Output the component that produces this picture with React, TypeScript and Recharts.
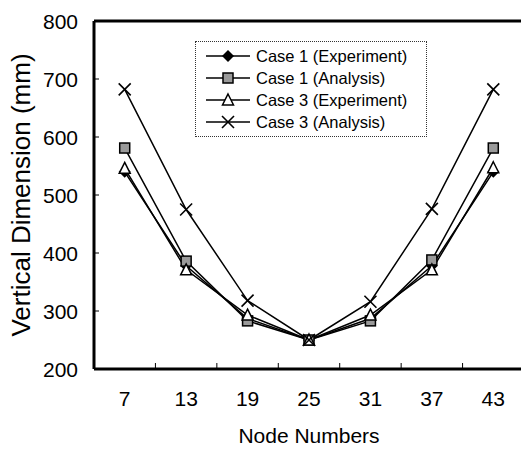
import React from 'react';
import { LineChart, Line, XAxis, YAxis, ReferenceLine, Legend } from 'recharts';

const nodes = [7, 13, 19, 25, 31, 37, 43];
const case1Experiment = [540, 378, 287, 250, 287, 378, 540];
const case1Analysis = [581, 386, 283, 250, 283, 388, 581];
const case3Experiment = [546, 371, 293, 250, 293, 371, 547];
const case3Analysis = [682, 475, 318, 250, 316, 476, 682];

const xLabels = [7, 13, 19, 25, 31, 37, 43];
const xMinorTicks = [10, 16, 22, 28, 34, 40];
const yTicks = [200, 300, 400, 500, 600, 700, 800];

const FONT = '"Liberation Sans", Arial, sans-serif';

const series = [
  { key: 'c1e', name: 'Case 1 (Experiment)', kind: 'diamond' },
  { key: 'c1a', name: 'Case 1 (Analysis)', kind: 'square' },
  { key: 'c3e', name: 'Case 3 (Experiment)', kind: 'triangle' },
  { key: 'c3a', name: 'Case 3 (Analysis)', kind: 'cross' },
];

const data = nodes.map((n, i) => ({
  node: n,
  c1e: case1Experiment[i],
  c1a: case1Analysis[i],
  c3e: case3Experiment[i],
  c3a: case3Analysis[i],
}));

const Marker = ({ kind, cx, cy }: { kind: string; cx: number; cy: number }) => {
  if (kind === 'diamond') {
    return <polygon points={`${cx},${cy - 6} ${cx + 6},${cy} ${cx},${cy + 6} ${cx - 6},${cy}`} fill="#000" />;
  }
  if (kind === 'square') {
    return <rect x={cx - 5} y={cy - 5} width={10} height={10} fill="#9a9a9a" stroke="#000" strokeWidth={1.5} />;
  }
  if (kind === 'triangle') {
    return <polygon points={`${cx},${cy - 6} ${cx + 5.5},${cy + 5} ${cx - 5.5},${cy + 5}`} fill="#fff" stroke="#000" strokeWidth={1.5} />;
  }
  return (
    <g stroke="#000" strokeWidth={1.6}>
      <line x1={cx - 6} y1={cy - 6} x2={cx + 6} y2={cy + 6} />
      <line x1={cx - 6} y1={cy + 6} x2={cx + 6} y2={cy - 6} />
    </g>
  );
};

const XTick = (props: any) => {
  const { x, y, payload } = props;
  const v = payload.value;
  if (xMinorTicks.includes(v)) {
    return <line x1={x} x2={x} y1={y - 22} y2={y - 28} stroke="#000" strokeWidth={1} />;
  }
  return (
    <text x={x} y={y} dy="0.71em" textAnchor="middle" fontSize={21} fontFamily={FONT} fill="#000">
      {v}
    </text>
  );
};

const YTick = (props: any) => {
  const { x, y, payload } = props;
  const v = payload.value;
  return (
    <g>
      {v !== 200 && v !== 800 && (
        <line x1={x + 16} x2={x + 21} y1={y} y2={y} stroke="#000" strokeWidth={1} />
      )}
      <text x={x} y={y} dy="0.36em" textAnchor="end" fontSize={21} fontFamily={FONT} fill="#000">
        {v}
      </text>
    </g>
  );
};

const YLabel = (props: any) => {
  const { viewBox } = props;
  const cx = viewBox.x + 21;
  const cy = viewBox.y + viewBox.height / 2;
  return (
    <text
      x={cx}
      y={cy}
      transform={`rotate(-90, ${cx}, ${cy})`}
      textAnchor="middle"
      dominantBaseline="central"
      fontSize={26}
      fontFamily={FONT}
      fill="#000"
    >
      Vertical Dimension (mm)
    </text>
  );
};

const LegendBox = () => (
  <div
    style={{
      border: '1px dotted #333',
      padding: '3px 0 3px 8px',
      width: 222,
      fontFamily: FONT,
      fontSize: 16.5,
      color: '#000',
      background: '#fff',
    }}
  >
    {series.map((s) => (
      <div key={s.key} style={{ display: 'flex', alignItems: 'center', height: 22 }}>
        <svg width={50} height={16} style={{ marginRight: 2 }}>
          <line x1={2} x2={46} y1={8} y2={8} stroke="#000" strokeWidth={1.5} />
          <Marker kind={s.kind} cx={24} cy={8} />
        </svg>
        <span>{s.name}</span>
      </div>
    ))}
  </div>
);

export default function App() {
  return (
    <div style={{ position: 'absolute', left: 0, top: 0, width: 521, height: 451, overflow: 'hidden', background: '#fff' }}>
      <LineChart width={530} height={451} data={data} margin={{ top: 21, right: 6, bottom: 0, left: 0 }}>
        <XAxis
          dataKey="node"
          type="number"
          domain={[4, 46]}
          ticks={[...xLabels, ...xMinorTicks].sort((a, b) => a - b)}
          interval={0}
          tickLine={false}
          tickSize={0}
          tickMargin={22}
          tick={<XTick />}
          axisLine={{ stroke: '#000', strokeWidth: 3 }}
          height={82}
          label={{ value: 'Node Numbers', position: 'insideBottom', offset: 8, fontSize: 21, fontFamily: FONT, fill: '#000' }}
        />
        <YAxis
          type="number"
          domain={[200, 800]}
          ticks={yTicks}
          interval={0}
          tickLine={false}
          tickSize={0}
          tickMargin={16}
          tick={<YTick />}
          axisLine={{ stroke: '#000', strokeWidth: 3 }}
          width={94}
          label={<YLabel />}
        />
        <ReferenceLine y={800} stroke="#000" strokeWidth={3} />
        <Legend
          layout="vertical"
          align="center"
          verticalAlign="middle"
          content={<LegendBox />}
          wrapperStyle={{ position: 'absolute', left: 195, top: 41, width: 231 }}
        />
        {series.map((s) => (
          <Line
            key={s.key}
            dataKey={s.key}
            name={s.name}
            stroke="#000"
            strokeWidth={1.5}
            isAnimationActive={false}
            dot={(p: any) => <Marker key={`${s.key}-${p.index}`} kind={s.kind} cx={p.cx} cy={p.cy} />}
          />
        ))}
      </LineChart>
    </div>
  );
}
